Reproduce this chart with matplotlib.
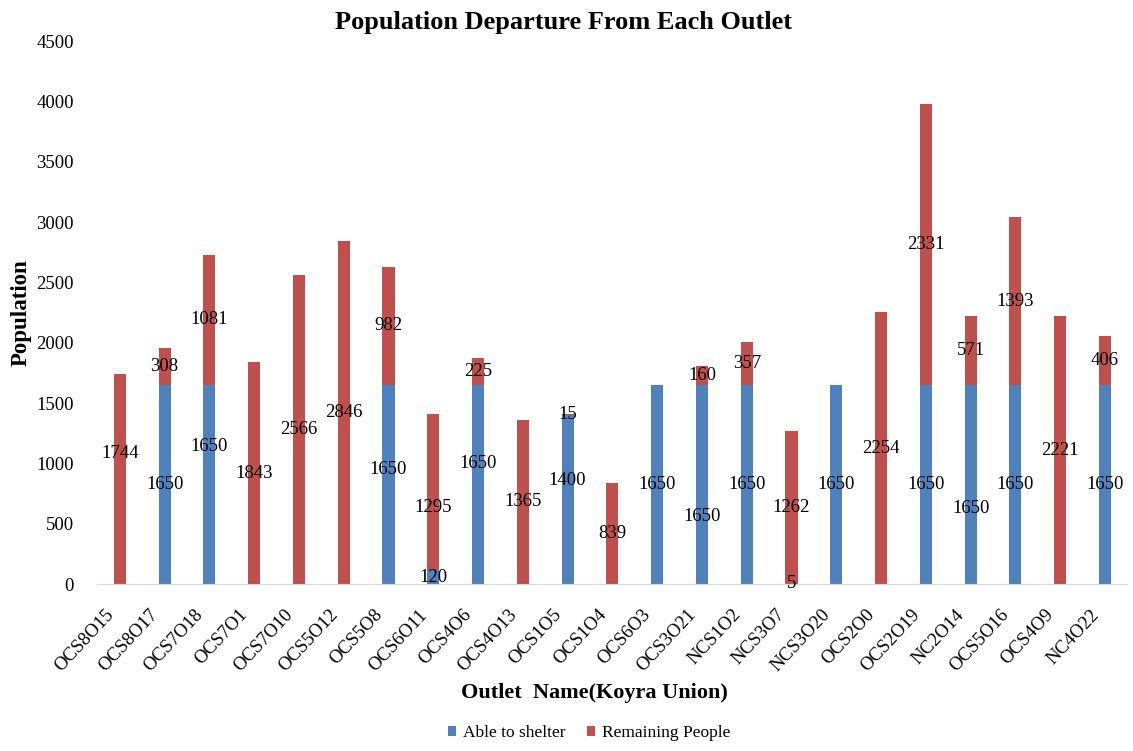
import matplotlib
matplotlib.use("Agg")
from matplotlib import pyplot as plt
import matplotlib.transforms as mtransforms
import numpy as np

outlets = ["OCS8O15", "OCS8O17", "OCS7O18", "OCS7O1", "OCS7O10", "OCS5O12",
           "OCS5O8", "OCS6O11", "OCS4O6", "OCS4O13", "OCS1O5", "OCS1O4",
           "OCS6O3", "OCS3O21", "NCS1O2", "NCS3O7", "NCS3O20", "OCS2O0",
           "OCS2O19", "NC2O14", "OCS5O16", "OCS4O9", "NC4O22"]
able_to_shelter = [0, 1650, 1650, 0, 0, 0, 1650, 120, 1650, 0, 1400, 0,
                   1650, 1650, 1650, 5, 1650, 0, 1650, 1650, 1650, 0, 1650]
remaining_people = [1744, 308, 1081, 1843, 2566, 2846, 982, 1295, 225, 1365, 15, 839,
                    0, 160, 357, 1262, 0, 2254, 2331, 571, 1393, 2221, 406]

# manual nudges of the data labels, as in the original chart
blue_label_shift = [0, 0, 313, 0, 0, 0, 128, 0, 180, 0, 162, 0,
                    0, -267, 0, 0, 0, 0, 0, -198, 0, 0, 0]
red_label_shift = [213, 0, 0, 0, 0, 0, 0, -135, 0, 0, 0, 0,
                   0, 0, 0, 0, 0, 0, 0, 0, 0, 0, 0]

plt.rcParams['font.family'] = ['Liberation Serif', 'DejaVu Serif']

blue = '#4F81BD'
red = '#C0504D'

fig = plt.figure(figsize=(11.33, 7.51), dpi=100)
ax = fig.add_axes([0.086, 0.222, 0.909, 0.723])

x = np.arange(len(outlets))
able = np.array(able_to_shelter)
rem = np.array(remaining_people)
w = 0.27
ax.bar(x, able, w, color=blue, label='Able to shelter', zorder=2)
ax.bar(x, rem, w, bottom=able, color=red, label='Remaining People', zorder=2)

for i in range(len(x)):
    if able[i] > 0:
        ax.text(x[i], able[i] / 2 + blue_label_shift[i], str(able[i]),
                ha='center', va='center', fontsize=13.5, zorder=3)
    if rem[i] > 0:
        ax.text(x[i], able[i] + rem[i] / 2 + red_label_shift[i], str(rem[i]),
                ha='center', va='center', fontsize=13.5, zorder=3)

ax.set_xlim(-0.5, len(x) - 0.5)
ax.set_ylim(0, 4500)
ax.set_yticks(np.arange(0, 4501, 500))
ax.set_xticks(x)
ax.set_xticklabels(outlets, rotation=47, ha='right', va='center',
                   rotation_mode='anchor')
ax.tick_params(axis='both', length=0, labelsize=13.5)
ax.tick_params(axis='x', pad=20)
ax.tick_params(axis='y', pad=17)
shift = mtransforms.ScaledTranslation(-9 / 100, 0, fig.dpi_scale_trans)
for lbl in ax.get_xticklabels():
    lbl.set_transform(lbl.get_transform() + shift)
for s in ['top', 'right', 'left']:
    ax.spines[s].set_visible(False)
ax.spines['bottom'].set_color('#D9D9D9')

fig.suptitle('Population Departure From Each Outlet', fontsize=19,
             fontweight='bold', x=0.497, y=0.985)
ax.set_ylabel('Population', fontsize=16.5, fontweight='bold', labelpad=3)
ax.set_xlabel('Outlet  Name(Koyra Union)', fontsize=16, fontweight='bold')
ax.xaxis.set_label_coords(0.483, -0.182)

fig.legend(loc='lower center', bbox_to_anchor=(0.52, -0.008), ncol=2, frameon=False,
           fontsize=12.5, handlelength=0.5, handleheight=0.5, handletextpad=0.4,
           columnspacing=1.2)

plt.savefig('out.png', dpi=100)
